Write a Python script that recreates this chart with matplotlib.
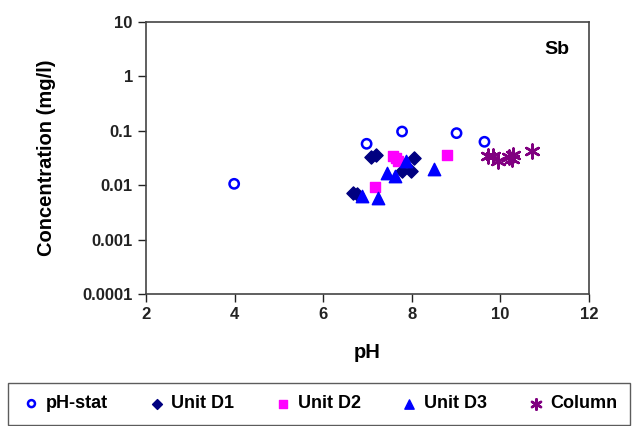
import numpy as np
import matplotlib.pyplot as plt
from matplotlib.ticker import FixedLocator, FixedFormatter, NullLocator

plt.rcParams['font.family'] = ['Liberation Sans', 'DejaVu Sans']
plt.rcParams['font.weight'] = 'bold'

# pH-stat
phstat_ph = [3.99, 6.98, 7.78, 9.01, 9.64]
phstat_c = [0.0106, 0.0577, 0.097, 0.0906, 0.0628]

# Unit D1
d1_ph = [6.68, 6.76, 7.07, 7.20, 7.77, 7.99, 8.05]
d1_c = [0.0071, 0.0069, 0.033, 0.0356, 0.0179, 0.0184, 0.0314]

# Unit D2
d2_ph = [7.18, 7.58, 7.65, 7.69, 8.80]
d2_c = [0.0092, 0.0347, 0.031, 0.0273, 0.0352]

# Unit D3
d3_ph = [6.88, 7.24, 7.43, 7.63, 7.88, 8.50]
d3_c = [0.00645, 0.0059, 0.0171, 0.0149, 0.0284, 0.0197]

# Column
col_ph = [9.72, 9.83, 9.95, 10.20, 10.29, 10.26, 10.72]
col_c = [0.0337, 0.0337, 0.0284, 0.033, 0.036, 0.030, 0.0417]

yticks = [0.0001, 0.001, 0.01, 0.1, 1, 10]
ytick_labels = ['0.0001', '0.001', '0.01', '0.1', '1', '10']

fig = plt.figure(figsize=(6.37, 4.26), dpi=100)
ax = fig.add_axes([146 / 637, 1 - 294 / 426, (589 - 146) / 637, (294 - 22) / 426])

ax.scatter(phstat_ph, phstat_c, marker='o', s=45, facecolors='none',
           edgecolors='#0000ff', linewidths=1.8, label='pH-stat', zorder=3)
ax.scatter(d1_ph, d1_c, marker='D', s=45, color='#000080', label='Unit D1', zorder=3)
ax.scatter(d2_ph, d2_c, marker='s', s=60, color='#ff00ff', label='Unit D2', zorder=3)
ax.scatter(d3_ph, d3_c, marker='^', s=80, color='#0000ff', label='Unit D3', zorder=3)
ax.scatter(col_ph, col_c, marker=(6, 2, 0), s=100, color='#800080',
           linewidths=1.8, label='Column', zorder=3)

ax.set_yscale('log')
ax.set_ylim(0.0001, 10)
ax.set_xlim(2, 12)
ax.set_xticks([2, 4, 6, 8, 10, 12])
ax.yaxis.set_major_locator(FixedLocator(yticks))
ax.yaxis.set_major_formatter(FixedFormatter(ytick_labels))
ax.yaxis.set_minor_locator(NullLocator())
ax.tick_params(direction='out', length=6, width=1, labelsize=12, colors='#222222')
for lab in ax.get_xticklabels() + ax.get_yticklabels():
    lab.set_fontweight('bold')
for sp in ax.spines.values():
    sp.set_color('#444444')
    sp.set_linewidth(1.2)

ax.set_xlabel('pH', fontsize=14.5, fontweight='bold', labelpad=15)
ax.set_ylabel('Concentration (mg/l)', fontsize=14.5, fontweight='bold', labelpad=19)
ax.text(0.955, 0.9, 'Sb', transform=ax.transAxes, ha='right', va='center',
        fontsize=14, fontweight='bold')

leg = fig.legend(loc='lower left', bbox_to_anchor=(8 / 637, 1 / 426, 622 / 637, 43 / 426),
                 mode='expand', ncol=5, frameon=True, fancybox=False,
                 edgecolor='#333333', prop={'weight': 'bold', 'size': 13},
                 handletextpad=0.2, borderpad=0.7, borderaxespad=0,
                 scatterpoints=1, markerscale=0.75, handlelength=1.2)
leg.get_frame().set_linewidth(1.0)

fig.savefig('out.png', dpi=100)
